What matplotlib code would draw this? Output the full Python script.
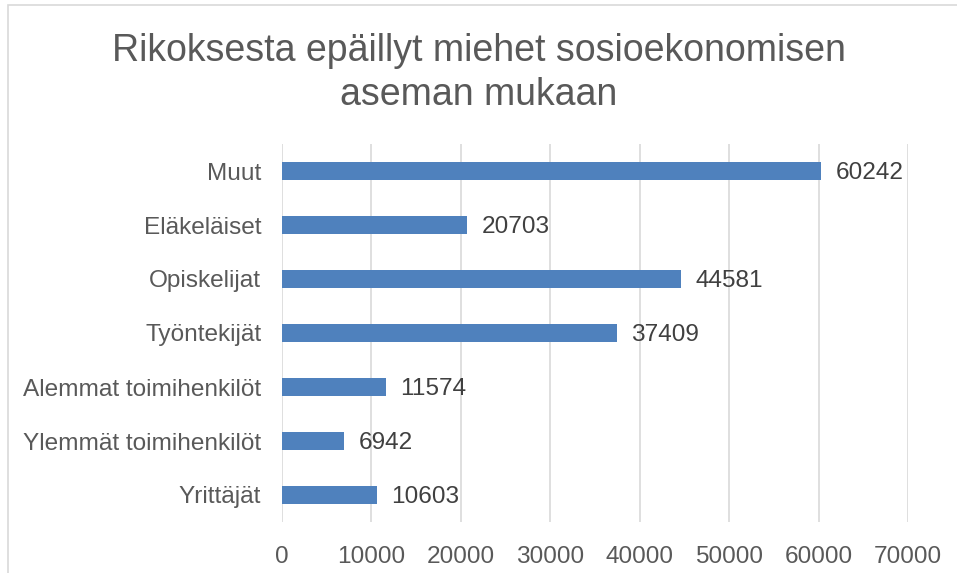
import matplotlib
matplotlib.use("Agg")
import matplotlib.pyplot as plt
from matplotlib.patches import Rectangle

categories = ["Yrittäjät", "Ylemmät toimihenkilöt", "Alemmat toimihenkilöt",
              "Työntekijät", "Opiskelijat", "Eläkeläiset", "Muut"]
values = [10603, 6942, 11574, 37409, 44581, 20703, 60242]
xticks = [0, 10000, 20000, 30000, 40000, 50000, 60000, 70000]
title = "Rikoksesta epäillyt miehet sosioekonomisen\naseman mukaan"

plt.rcParams['font.family'] = ['Liberation Sans', 'DejaVu Sans']

W, H = 957, 573
fig = plt.figure(figsize=(W / 100, H / 100), dpi=100)
fig.patch.set_facecolor("white")

# chart border
fig.add_artist(Rectangle((8 / W, -0.1), 1.2, (H - 5) / H + 0.1, transform=fig.transFigure,
                         fill=False, edgecolor="#d9d9d9", linewidth=1.2))

left, right = 282 / W, 908 / W
top, bottom = 1 - 144 / H, 1 - 522 / H
ax = fig.add_axes([left, bottom, right - left, top - bottom])

y = list(range(len(categories)))
ax.barh(y, values, height=0.34, color="#4f81bd", zorder=3)
ax.set_xlim(0, 70000)
ax.set_ylim(-0.5, len(categories) - 0.5)
ax.set_yticks(y)
ax.set_yticklabels(categories, fontsize=17.6, color="#595959")
ax.set_xticks(xticks)
ax.set_xticklabels([str(v) for v in xticks], fontsize=17.6, color="#595959")
ax.tick_params(axis="both", length=0)
ax.tick_params(axis="x", pad=17)
ax.tick_params(axis="y", pad=15)
for s in ax.spines.values():
    s.set_visible(False)
ax.grid(axis="x", color="#d9d9d9", linewidth=1.2, zorder=0)
ax.set_axisbelow(True)

for yi, v in zip(y, values):
    ax.text(v + 1650, yi - 0.04, str(v), va="center", ha="left", fontsize=17.6, color="#404040")

fig.text(0.5, 1 - 73 / H, title, ha="center", va="center", fontsize=27,
         color="#595959", linespacing=1.32)

fig.savefig("out.png", dpi=100)
